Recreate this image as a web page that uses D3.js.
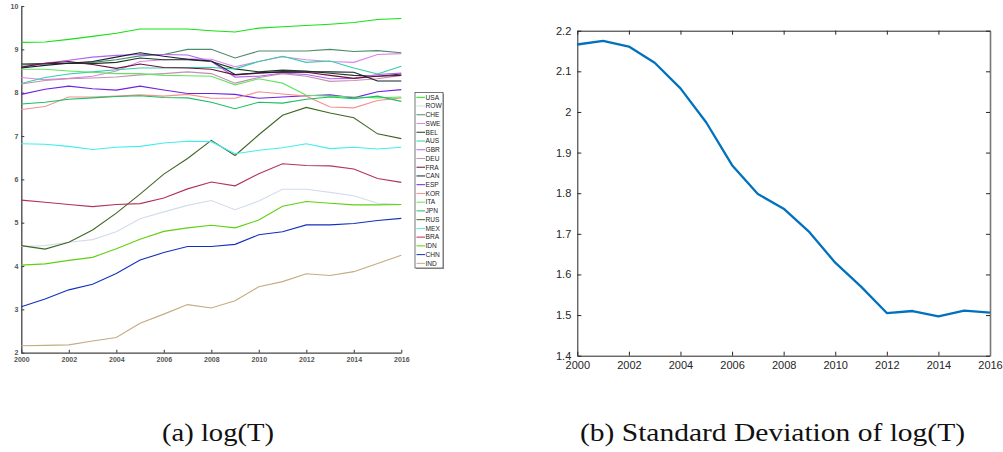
<!DOCTYPE html>
<html>
<head>
<meta charset="utf-8">
<script src="https://cdn.jsdelivr.net/npm/d3@7"></script>
<style>
  html, body { margin: 0; padding: 0; background: #fff; }
  svg { display: block; }
</style>
</head>
<body>
<svg id="chart" width="1003" height="452"></svg>
<script>
const years = d3.range(2000, 2017);

// log(T) per country
const USA = [9.16, 9.17, 9.23, 9.30, 9.37, 9.47, 9.47, 9.47, 9.43, 9.40, 9.49, 9.52, 9.55, 9.58, 9.62, 9.69, 9.71];
const ROW = [4.45, 4.47, 4.55, 4.61, 4.79, 5.09, 5.25, 5.40, 5.51, 5.30, 5.50, 5.77, 5.77, 5.70, 5.62, 5.45, 5.42];
const CHE = [8.64, 8.66, 8.68, 8.70, 8.76, 8.85, 8.88, 9.00, 9.00, 8.80, 8.96, 8.96, 8.96, 9.00, 8.95, 8.97, 8.92];
const SWE = [8.35, 8.30, 8.33, 8.38, 8.50, 8.72, 8.76, 8.78, 8.77, 8.60, 8.72, 8.83, 8.76, 8.72, 8.70, 8.88, 8.90];
const BEL = [8.66, 8.67, 8.68, 8.67, 8.70, 8.80, 8.76, 8.76, 8.72, 8.55, 8.48, 8.52, 8.50, 8.45, 8.40, 8.38, 8.43];
const AUS = [8.21, 8.35, 8.43, 8.48, 8.53, 8.57, 8.57, 8.58, 8.58, 8.55, 8.72, 8.84, 8.70, 8.73, 8.57, 8.43, 8.61];
const GBR = [8.58, 8.68, 8.75, 8.82, 8.86, 8.88, 8.88, 8.87, 8.72, 8.36, 8.38, 8.45, 8.42, 8.32, 8.33, 8.42, 8.45];
const DEU = [8.20, 8.28, 8.32, 8.34, 8.36, 8.41, 8.44, 8.48, 8.44, 8.22, 8.35, 8.44, 8.38, 8.26, 8.28, 8.32, 8.40];
const FRA = [8.59, 8.68, 8.72, 8.65, 8.56, 8.66, 8.58, 8.57, 8.54, 8.41, 8.45, 8.48, 8.47, 8.40, 8.33, 8.38, 8.40];
const CAN = [8.57, 8.63, 8.68, 8.72, 8.82, 8.92, 8.84, 8.77, 8.73, 8.42, 8.46, 8.48, 8.48, 8.48, 8.47, 8.27, 8.27];
const ESP = [7.96, 8.08, 8.15, 8.09, 8.06, 8.15, 8.06, 7.98, 7.98, 7.96, 7.87, 7.90, 7.93, 7.95, 7.88, 8.02, 8.07];
const KOR = [7.61, 7.68, 7.90, 7.90, 7.92, 7.95, 7.92, 7.96, 7.87, 7.87, 8.02, 7.97, 7.92, 7.67, 7.65, 7.82, 7.88];
const ITA = [8.54, 8.54, 8.50, 8.47, 8.44, 8.44, 8.40, 8.39, 8.38, 8.18, 8.32, 8.22, 7.94, 7.92, 7.90, 7.88, 7.90];
const JPN = [7.74, 7.78, 7.85, 7.88, 7.91, 7.93, 7.89, 7.88, 7.78, 7.63, 7.78, 7.76, 7.85, 7.90, 7.86, 7.92, 7.80];
const RUS = [4.47, 4.39, 4.55, 4.83, 5.22, 5.66, 6.12, 6.48, 6.90, 6.55, 7.03, 7.48, 7.66, 7.53, 7.42, 7.05, 6.94];
const MEX = [6.82, 6.81, 6.76, 6.69, 6.74, 6.76, 6.84, 6.88, 6.87, 6.59, 6.67, 6.73, 6.82, 6.71, 6.74, 6.70, 6.74];
const BRA = [5.52, 5.47, 5.42, 5.37, 5.42, 5.44, 5.57, 5.78, 5.94, 5.85, 6.13, 6.36, 6.32, 6.31, 6.24, 6.02, 5.93];
const IDN = [4.02, 4.05, 4.13, 4.20, 4.40, 4.62, 4.80, 4.88, 4.94, 4.88, 5.06, 5.38, 5.49, 5.45, 5.41, 5.41, 5.42];
const CHN = [3.06, 3.24, 3.45, 3.58, 3.83, 4.14, 4.31, 4.45, 4.45, 4.50, 4.72, 4.79, 4.95, 4.95, 4.98, 5.05, 5.10];
const IND = [2.16, 2.17, 2.18, 2.27, 2.35, 2.68, 2.89, 3.11, 3.03, 3.20, 3.52, 3.64, 3.82, 3.78, 3.87, 4.06, 4.25];

const countries = ["USA", "ROW", "CHE", "SWE", "BEL", "AUS", "GBR", "DEU", "FRA", "CAN",
                   "ESP", "KOR", "ITA", "JPN", "RUS", "MEX", "BRA", "IDN", "CHN", "IND"];
const seriesValues = [USA, ROW, CHE, SWE, BEL, AUS, GBR, DEU, FRA, CAN,
                      ESP, KOR, ITA, JPN, RUS, MEX, BRA, IDN, CHN, IND];
const countryColors = ["#14e214", "#d3dbee", "#4f8a6c", "#dc82ee", "#1e3a26", "#2fd1a4",
                       "#b064f2", "#c491ad", "#6e0f3c", "#15202e", "#7022e0", "#f59090",
                       "#62e462", "#1cbf62", "#3f6624", "#40eeee", "#b2325e", "#5fd010",
                       "#1230bf", "#c4ab82"];

// standard deviation of log(T), right panel
const stdDev = [2.166, 2.175, 2.161, 2.121, 2.058, 1.974, 1.869, 1.798, 1.762, 1.704,
                1.629, 1.570, 1.505, 1.510, 1.497, 1.511, 1.506];

const yearTicks = d3.range(2000, 2017, 2);
const leftYTicks = d3.range(2, 11);
const rightYTicks = [1.4, 1.5, 1.6, 1.7, 1.8, 1.9, 2, 2.1, 2.2];

const svg = d3.select("#chart");

// ---------- (a) log(T) ----------
const xA = d3.scaleLinear().domain([2000, 2016]).range([21.3, 401.3]);
const yA = d3.scaleLinear().domain([2, 10]).range([352.7, 6]);

const gA = svg.append("g");

const axisA_x = gA.append("g")
    .attr("transform", `translate(0,${yA(2)})`)
    .call(d3.axisBottom(xA).tickValues(yearTicks).tickFormat(d3.format("d")).tickSizeInner(-3).tickSizeOuter(0).tickPadding(4));
const axisA_y = gA.append("g")
    .attr("transform", `translate(${xA(2000)},0)`)
    .call(d3.axisLeft(yA).tickValues(leftYTicks).tickSizeInner(-3).tickSizeOuter(0).tickPadding(3));

[axisA_x, axisA_y].forEach(ax => {
    ax.select(".domain").attr("stroke", "#444").attr("stroke-width", 1.3);
    ax.selectAll(".tick line").attr("stroke", "#444").attr("stroke-width", 1.1);
    ax.selectAll("text")
        .attr("fill", "#555")
        .style("font-family", "Liberation Sans, Arial, sans-serif")
        .style("font-size", "7px")
        .style("font-weight", "bold");
});

const lineA = d3.line()
    .x((d, i) => xA(years[i]))
    .y(d => yA(d));

gA.append("g")
    .selectAll("path")
    .data(seriesValues)
    .join("path")
    .attr("d", lineA)
    .attr("fill", "none")
    .attr("stroke", (d, i) => countryColors[i])
    .attr("stroke-width", 1.1);

// legend
const legendA = gA.append("g").attr("transform", "translate(415, 92.5)");
legendA.append("rect")
    .attr("x", 1).attr("y", 1)
    .attr("width", 28).attr("height", 175.5)
    .attr("fill", "#999");
legendA.append("rect")
    .attr("width", 28).attr("height", 175.5)
    .attr("fill", "#fff")
    .attr("stroke", "#555")
    .attr("stroke-width", 0.8);

const legendRows = legendA.selectAll("g.row")
    .data(countries)
    .join("g")
    .attr("class", "row")
    .attr("transform", (d, i) => `translate(0, ${4.8 + i * 8.74})`);
legendRows.append("line")
    .attr("x1", 1.5).attr("x2", 10)
    .attr("stroke", (d, i) => countryColors[i])
    .attr("stroke-width", 1);
legendRows.append("text")
    .attr("x", 10.5)
    .attr("dy", "0.35em")
    .attr("fill", "#222")
    .style("font-family", "Liberation Sans, Arial, sans-serif")
    .style("font-size", "6.6px")
    .text(d => d);

// ---------- (b) Standard deviation ----------
const xB = d3.scaleLinear().domain([2000, 2016]).range([577.3, 990]);
const yB = d3.scaleLinear().domain([1.4, 2.2]).range([355.7, 30.7]);

const gB = svg.append("g");

const axisB_x = gB.append("g")
    .attr("transform", `translate(0,${yB(1.4)})`)
    .call(d3.axisBottom(xB).tickValues(yearTicks).tickFormat(d3.format("d")).tickSizeInner(-4).tickSizeOuter(0).tickPadding(6));
const axisB_y = gB.append("g")
    .attr("transform", `translate(${xB(2000)},0)`)
    .call(d3.axisLeft(yB).tickValues(rightYTicks).tickFormat(d3.format("")).tickSizeInner(-4).tickSizeOuter(0).tickPadding(6));
const axisB_top = gB.append("g")
    .attr("transform", `translate(0,${yB(2.2)})`)
    .call(d3.axisTop(xB).tickValues(yearTicks).tickFormat("").tickSizeInner(-4).tickSizeOuter(0));
const axisB_right = gB.append("g")
    .attr("transform", `translate(${xB(2016)},0)`)
    .call(d3.axisRight(yB).tickValues(rightYTicks).tickFormat("").tickSizeInner(-4).tickSizeOuter(0));

[axisB_x, axisB_y, axisB_top, axisB_right].forEach(ax => {
    ax.select(".domain").attr("stroke", "#262626").attr("stroke-width", 1);
    ax.selectAll(".tick line").attr("stroke", "#262626").attr("stroke-width", 1);
    ax.selectAll("text")
        .attr("fill", "#262626")
        .style("font-family", "Liberation Sans, Arial, sans-serif")
        .style("font-size", "11px");
});
axisB_right.select(".domain").attr("stroke", "#777").attr("stroke-width", 1.6);

gB.append("path")
    .datum(stdDev)
    .attr("d", d3.line().x((d, i) => xB(years[i])).y(d => yB(d)))
    .attr("fill", "none")
    .attr("stroke", "#0072BD")
    .attr("stroke-width", 2.3)
    .attr("stroke-linejoin", "round");

// ---------- captions ----------
const captions = [
    { text: "(a) log(T)", x: 162, w: 112 },
    { text: "(b) Standard Deviation of log(T)", x: 580, w: 385 }
];
svg.selectAll("text.caption")
    .data(captions)
    .join("text")
    .attr("class", "caption")
    .attr("x", d => d.x)
    .attr("y", 441)
    .attr("textLength", d => d.w)
    .attr("lengthAdjust", "spacingAndGlyphs")
    .attr("fill", "#111")
    .style("font-family", "'Liberation Serif', 'Times New Roman', serif")
    .style("font-size", "25.5px")
    .text(d => d.text);
</script>
</body>
</html>
